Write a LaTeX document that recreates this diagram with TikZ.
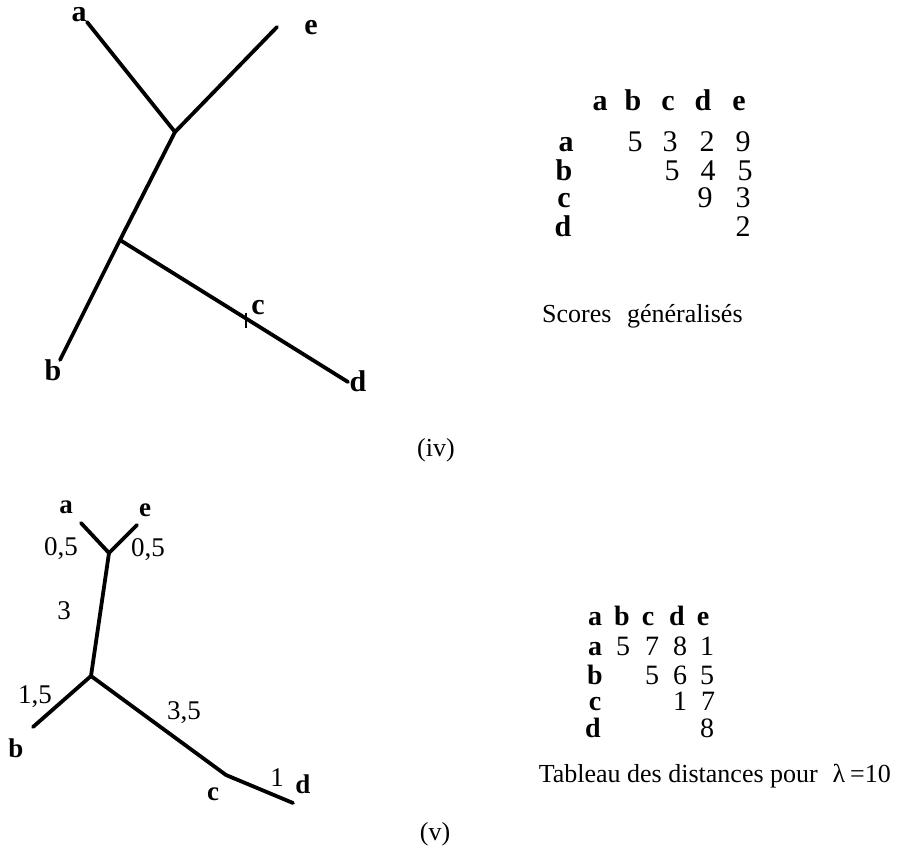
\documentclass[tikz,border=0pt]{standalone}
\usepackage{fontspec}
\setmainfont{Liberation Serif}
\begin{document}
\begin{tikzpicture}[x=1pt,y=-1pt,
  branch/.style={line width=3.8pt,line cap=round,line join=round},
  tick/.style={line width=2pt},
  big/.style={font=\fontsize{30}{32}\selectfont,inner sep=0pt,anchor=base},
  mid/.style={font=\fontsize{28}{30}\selectfont,inner sep=0pt,anchor=base},
  small/.style={font=\fontsize{27}{29}\selectfont,inner sep=0pt,anchor=base},
  captxt/.style={font=\fontsize{26}{28}\selectfont,inner sep=0pt,anchor=base}]
\useasboundingbox (0,0) rectangle (906,850);

% ---------- top tree (iv)
\coordinate (ta) at (87,22);
\coordinate (te) at (277,27);
\coordinate (tj1) at (175,132);
\coordinate (tj2) at (120,240);
\coordinate (tb) at (60,360);
\coordinate (td) at (348,382);
\coordinate (tc1) at (246,313);
\coordinate (tc2) at (246,328);
\draw[branch] (ta) -- (tj1) -- (te);
\draw[branch] (tj1) -- (tj2) -- (tb);
\draw[branch] (tj2) -- (td);
\draw[tick] (tc1) -- (tc2);
\node[big] (la) at (79,22) {\bfseries a};
\node[big] (le) at (311,35) {\bfseries e};
\node[big] (lb) at (53,381) {\bfseries b};
\node[big] (ld) at (358,392) {\bfseries d};
\node[big] (lc) at (258,315) {\bfseries c};

% ---------- top matrix
\foreach \t/\x/\y [count=\i] in {a/600/111,b/633/111,c/668/111,d/703/111,e/739/111,
  a/566/152,b/564/181,c/564/208,d/563/237}
  \node[big] (h\i) at (\x,\y) {\bfseries\t};
\foreach \t/\x/\y [count=\i] in {5/635/152,3/670/152,2/707/152,9/743/152,
  5/672/181,4/708/181,5/745/181,
  9/705/208,3/743/208,
  2/743/237}
  \node[big] (s\i) at (\x,\y) {\t};
\node[captxt,anchor=base west] (scores) at (542,323) {Scores\hspace{0.6em}généralisés};
\node[captxt] (iv) at (436,457) {(iv)};

% ---------- bottom tree (v)
\coordinate (ba) at (81,523);
\coordinate (be) at (137,525);
\coordinate (bj1) at (109,553);
\coordinate (bj2) at (91,676);
\coordinate (bb) at (33,727);
\coordinate (bc) at (226,775);
\coordinate (bd) at (293,803);
\draw[branch] (ba) -- (bj1) -- (be);
\draw[branch] (bj1) -- (bj2) -- (bb);
\draw[branch] (bj2) -- (bc) -- (bd);
\node[small] (va) at (66,514) {\bfseries a};
\node[small] (ve) at (145,517) {\bfseries e};
\node[small] (w1) at (61,555) {0,5};
\node[small] (w2) at (148,557) {0,5};
\node[small] (w3) at (64,619) {3};
\node[small] (w4) at (35,703) {1,5};
\node[small] (vb) at (16,757) {\bfseries b};
\node[small] (w5) at (184,719) {3,5};
\node[small] (vc) at (213,800) {\bfseries c};
\node[small] (w6) at (277,786) {1};
\node[small] (vd) at (303,793) {\bfseries d};

% ---------- bottom matrix
\foreach \t/\x/\y [count=\i] in {a/595/625,b/622/625,c/648/625,d/677/625,e/703/625,
  a/595/655,b/595/684,c/595/710,d/593/737}
  \node[mid] (g\i) at (\x,\y) {\bfseries\t};
\foreach \t/\x/\y [count=\i] in {5/623/655,7/652/655,8/680/655,1/707/655,
  5/652/684,6/680/684,5/707/684,
  1/680/710,7/708/710,
  8/707/737}
  \node[mid] (t\i) at (\x,\y) {\t};
\node[captxt,anchor=base east] (tab) at (818,782) {Tableau des distances pour};
\node[captxt] (lam) at (839,782) {λ};
\node[captxt,anchor=base west] (eq) at (850,782) {=10};
\node[captxt] (v) at (435,840) {(v)};
\end{tikzpicture}
\end{document}
